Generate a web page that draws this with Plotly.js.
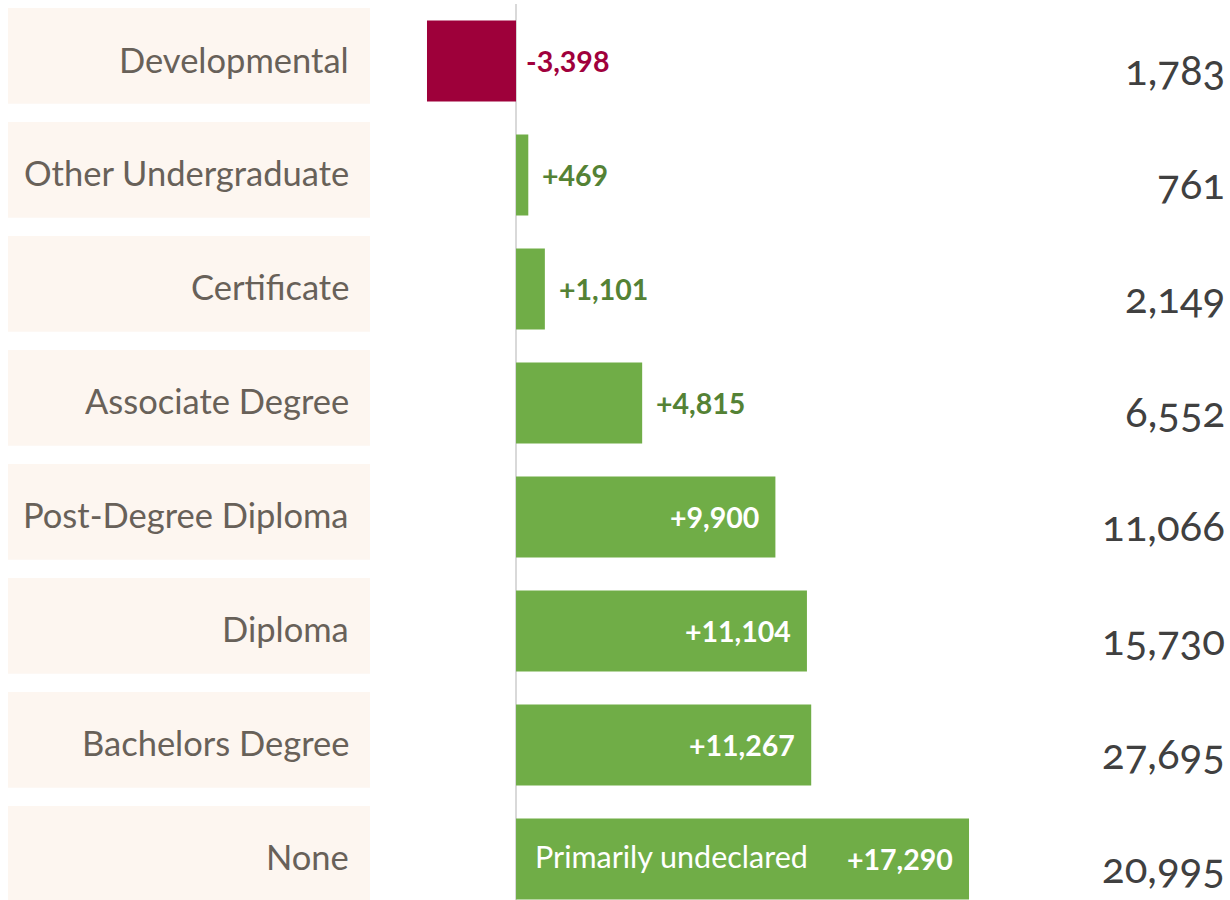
<!DOCTYPE html>
<html><head><meta charset="utf-8">
<script src="https://cdn.plot.ly/plotly-3.0.1.min.js"></script>
<style>
html,body{margin:0;padding:0;background:#fff}#chart{width:1230px;height:900px}
text[style*="font-size: 42px"]{font-feature-settings:"onum" 1;font-variant-numeric:oldstyle-nums}
</style>
</head><body><div id="chart"></div>
<script>
const categories = ["Developmental","Other Undergraduate","Certificate","Associate Degree","Post-Degree Diploma","Diploma","Bachelors Degree","None"];
const changes = [-3398, 469, 1101, 4815, 9900, 11104, 11267, 17290];
const changeLabels = ["-3,398","+469","+1,101","+4,815","+9,900","+11,104","+11,267","+17,290"];
const totals = [1783, 761, 2149, 6552, 11066, 15730, 27695, 20995];
const totalLabels = ["1,783","761","2,149","6,552","11,066","15,730","27,695","20,995"];
const noteCategory = "None";
const noteText = "Primarily undeclared";

const GREEN = "#70AD47", CRIMSON = "#9E003A";
const FONT = "Lato, 'Open Sans', sans-serif";

const barTrace = {
  type: "bar", orientation: "h",
  y: categories, x: changes,
  marker: {color: changes.map(v => v < 0 ? CRIMSON : GREEN), line: {width: 0}},
  width: 0.71, hoverinfo: "skip"
};

const shapes = [];
const annotations = [];
categories.forEach((c, i) => {
  shapes.push({type: "rect", layer: "below", xref: "paper", yref: "y",
    x0: 8/1230, x1: 370/1230, y0: i - 0.465, y1: i + 0.375,
    fillcolor: "#FDF6F0", line: {width: 0}});
  annotations.push({xref: "paper", yref: "y", x: 351/1230, y: c, xanchor: "right", yanchor: "middle",
    yshift: 2, text: c, showarrow: false, font: {family: FONT, size: 34.5, color: "#686159"}});
  annotations.push({xref: "paper", yref: "y", x: 1227/1230, y: c, xanchor: "right", yanchor: "middle",
    yshift: -8, text: totalLabels[i], showarrow: false, font: {family: FONT, size: 42, color: "#404040"}});
  const v = changes[i];
  const inside = v > 8000;
  annotations.push({xref: "x", yref: "y", x: inside ? v : Math.max(v, 0), y: c,
    xanchor: inside ? "right" : "left", xshift: inside ? -14 : (v < 0 ? 8 : 12), yanchor: "middle",
    text: "<b>" + changeLabels[i] + "</b>", showarrow: false,
    font: {family: FONT, size: 28.5, color: inside ? "#FFFFFF" : (v < 0 ? "#A0003C" : "#548235")}});
});
annotations.push({xref: "x", yref: "y", x: 0, y: noteCategory, xanchor: "left", xshift: 17, yshift: 3,
  yanchor: "middle", text: noteText, showarrow: false, font: {family: FONT, size: 30.5, color: "#FFFFFF"}});

shapes.push({type: "line", layer: "below", xref: "x", yref: "paper", x0: 0, x1: 0, y0: 0, y1: 1.0,
  line: {color: "#D9D9D9", width: 2}});

const layout = {
  width: 1230, height: 900,
  margin: {l: 0, r: 0, t: 4, b: 0},
  paper_bgcolor: "#FFFFFF", plot_bgcolor: "#FFFFFF",
  showlegend: false,
  xaxis: {range: [-19695, 27251], showticklabels: false, showgrid: false, zeroline: false, showline: false, fixedrange: true},
  yaxis: {type: "category", range: [7.36, -0.5], showticklabels: false, showgrid: false, zeroline: false, showline: false, fixedrange: true},
  shapes: shapes, annotations: annotations
};
Plotly.newPlot("chart", [barTrace], layout, {displayModeBar: false, staticPlot: true});
</script></body></html>
